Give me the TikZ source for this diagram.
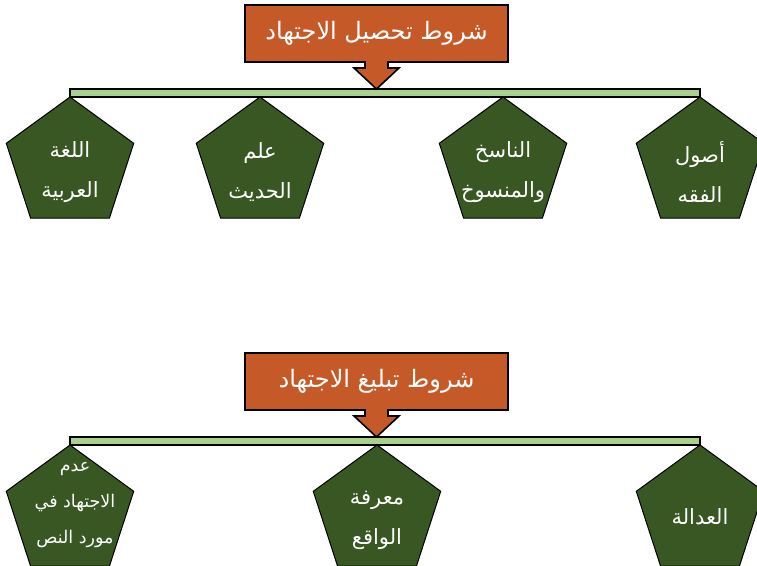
\documentclass[tikz,border=0pt]{standalone}
\usepackage{fontspec}
\newfontfamily\arabicfont[Script=Arabic]{DejaVu Sans}
\TeXXeTstate=1
\usetikzlibrary{shapes.geometric,backgrounds}
\definecolor{calloutfill}{RGB}{197,90,40}
\definecolor{pentfill}{RGB}{56,87,35}
\definecolor{barfill}{RGB}{169,209,142}
\tikzset{
  pent/.style={regular polygon, regular polygon sides=5, minimum size=134pt,
    inner sep=0pt, outer sep=0pt, draw=black, line width=1pt, fill=pentfill, anchor=corner 1},
  ptext/.style={text=white, font=\arabicfont\fontsize{21}{40}\selectfont, align=center, inner sep=0pt},
  ptextsmall/.style={text=white, font=\arabicfont\fontsize{17.5}{36}\selectfont, align=center, inner sep=0pt},
  hbar/.style={draw=black, line width=1.6pt, fill=barfill, inner sep=0pt, outer sep=0pt,
    minimum width=630pt, minimum height=8pt},
  calloutshape/.style={draw=black, line width=1.6pt, fill=calloutfill, line join=miter},
  ctext/.style={text=white, font=\arabicfont\fontsize{24}{28}\selectfont,
    minimum width=263pt, minimum height=57pt, inner sep=0pt, outer sep=0pt}
}
\begin{document}
\begin{tikzpicture}[x=1pt,y=-1pt]
\useasboundingbox (0,0) rectangle (757,565);

% ---------- top group ----------
\node[ctext] (c1) at (376.5,33.5) {\beginR شروط تحصيل الاجتهاد\endR};
\begin{scope}[on background layer]
\draw[calloutshape] (c1.north west) -- (c1.north east) -- (c1.south east)
  -- ([xshift=11.5pt]c1.south) -- ([xshift=11.5pt,yshift=-6pt]c1.south)
  -- ([xshift=22.5pt,yshift=-6pt]c1.south) -- ([yshift=-27pt]c1.south)
  -- ([xshift=-22.5pt,yshift=-6pt]c1.south) -- ([xshift=-11.5pt,yshift=-6pt]c1.south)
  -- ([xshift=-11.5pt]c1.south) -- (c1.south west) -- cycle;
\end{scope}
\node[hbar] (b1) at (385,93) {};

\node[pent] (p1) at (70,97) {};
\node[pent] (p2) at (260,97) {};
\node[pent] (p3) at (503,97) {};
\node[pent] (p4) at (700,97) {};
\node[ptext] (t1) at ([yshift=-8pt]p1.center) {\beginR اللغة\endR\\\beginR العربية\endR};
\node[ptext] (t2) at ([yshift=-8pt]p2.center) {\beginR علم\endR\\\beginR الحديث\endR};
\node[ptext] (t3) at ([yshift=-8pt]p3.center) {\beginR الناسخ\endR\\\beginR والمنسوخ\endR};
\node[ptext] (t4) at ([yshift=-8pt]p4.center) {\beginR أصول\endR\\\beginR الفقه\endR};

% ---------- bottom group ----------
\node[ctext] (c2) at (376.5,381.5) {\beginR شروط تبليغ الاجتهاد\endR};
\begin{scope}[on background layer]
\draw[calloutshape] (c2.north west) -- (c2.north east) -- (c2.south east)
  -- ([xshift=11.5pt]c2.south) -- ([xshift=11.5pt,yshift=-6pt]c2.south)
  -- ([xshift=22.5pt,yshift=-6pt]c2.south) -- ([yshift=-27pt]c2.south)
  -- ([xshift=-22.5pt,yshift=-6pt]c2.south) -- ([xshift=-11.5pt,yshift=-6pt]c2.south)
  -- ([xshift=-11.5pt]c2.south) -- (c2.south west) -- cycle;
\end{scope}
\node[hbar] (b2) at (385,441) {};

\node[pent] (q1) at (70,445) {};
\node[pent] (q2) at (377,445) {};
\node[pent] (q3) at (700,445) {};
\node[ptextsmall] (s1) at ([xshift=5pt,yshift=7pt]q1.center) {\beginR عدم\endR\\\beginR الاجتهاد في\endR\\\beginR مورد النص\endR};
\node[ptext] (s2) at ([yshift=-8pt]q2.center) {\beginR معرفة\endR\\\beginR الواقع\endR};
\node[ptext] (s3) at ([yshift=-5pt]q3.center) {\beginR العدالة\endR};
\end{tikzpicture}
\end{document}
